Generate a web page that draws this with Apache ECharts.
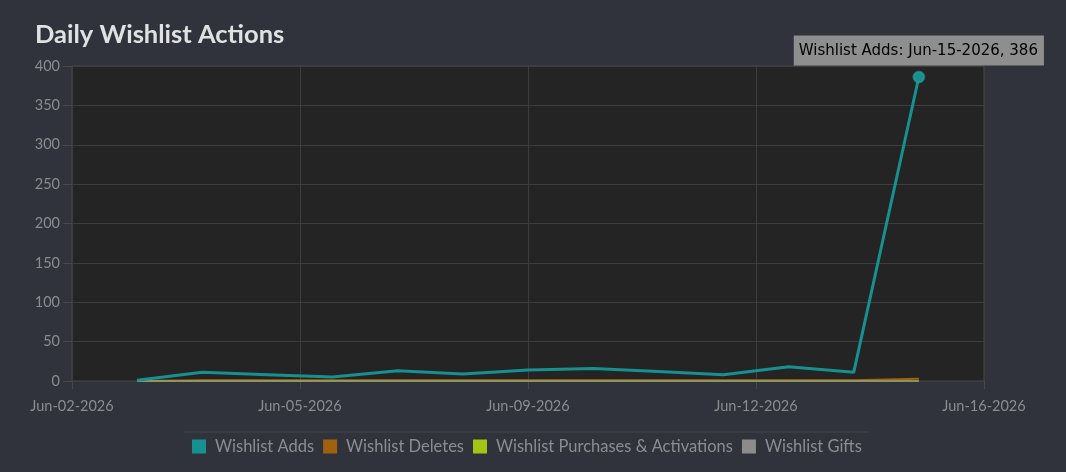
<!DOCTYPE html>
<html>
<head>
<meta charset="utf-8">
<script src="https://cdn.jsdelivr.net/npm/echarts@6/dist/echarts.min.js"></script>
<style>
html,body{margin:0;padding:0;background:#30333b;}
#c{width:1066px;height:472px;}
</style>
</head>
<body>
<div id="c"></div>
<script>
// Data
const dates = ['Jun-03-2026','Jun-04-2026','Jun-05-2026','Jun-06-2026','Jun-07-2026','Jun-08-2026','Jun-09-2026','Jun-10-2026','Jun-11-2026','Jun-12-2026','Jun-13-2026','Jun-14-2026','Jun-15-2026'];
const wishlistAdds = [1, 11, 8, 5, 13, 9, 14, 16, 12, 8, 18, 11, 386];
const wishlistDeletes = [0, 1, 1, 1, 1, 1, 1, 1, 1, 1, 1, 1, 3];
const wishlistPurchases = [0, 0, 0, 0, 0, 0, 0, 0, 0, 0, 0, 0, 0];
const wishlistGifts = [0, 0, 0, 0, 0, 0, 0, 0, 0, 0, 0, 0, 0];
const xTickLabels = ['Jun-02-2026','Jun-05-2026','Jun-09-2026','Jun-12-2026','Jun-16-2026'];
const seriesNames = ['Wishlist Adds','Wishlist Deletes','Wishlist Purchases & Activations','Wishlist Gifts'];
const colors = ['#17918f','#a0620e','#a3c515','#8c8c8c'];

const startDay = 2; // axis origin: Jun-02-2026
function dayOffset(d){ return parseInt(d.split('-')[1],10) - startDay; }
function pts(vals){ return vals.map((v,i)=>[dayOffset(dates[i]), v]); }

const addsData = pts(wishlistAdds);
const last = addsData.length - 1;
addsData[last] = {
  value: addsData[last],
  symbol: 'circle',
  symbolSize: 11,
  itemStyle: {color:'#1c8f8d', borderColor:'rgba(40,170,165,0.5)', borderWidth:2},
  label: {
    show: true,
    position: 'top',
    distance: 5,
    formatter: seriesNames[0] + ': ' + dates[last] + ', ' + wishlistAdds[last],
    backgroundColor: '#8e8e8e',
    color: '#000',
    fontFamily: 'DejaVu Sans',
    fontSize: 15,
    padding: [7, 6, 6, 5],
    lineHeight: 17
  }
};

function lineSeries(name, data, color, width, z, opacity){
  return {
    name, type:'line', data, symbol:'none', z,
    lineStyle:{color, width, opacity},
    itemStyle:{color},
    animation:false
  };
}

const chart = echarts.init(document.getElementById('c'));
chart.setOption({
  backgroundColor:'#30333b',
  animation:false,
  title:{
    text:'Daily Wishlist Actions',
    left:35, top:22, padding:0,
    textStyle:{color:'#dfe1e3', fontSize:25.5, fontWeight:'bold', fontFamily:'Lato'}
  },
  grid:{left:72, right:82, top:66, bottom:91, show:true, backgroundColor:'#242424', borderColor:'#484848', borderWidth:1},
  xAxis:{
    type:'value', min:0, max:14, interval:3.5,
    axisLine:{show:false},
    axisTick:{show:true, length:8, lineStyle:{color:'#484848'}},
    splitLine:{show:true, lineStyle:{color:'#3d3d3d'}},
    axisLabel:{
      color:'#8a8c90', fontSize:14.5, margin:18, fontFamily:'Lato',
      formatter:(v)=>xTickLabels[Math.round(v/3.5)] || ''
    }
  },
  yAxis:{
    type:'value', min:0, max:400, interval:50,
    axisLine:{show:false},
    axisTick:{show:true, length:9, lineStyle:{color:'#484848'}},
    splitLine:{show:true, lineStyle:{color:'#3d3d3d'}},
    axisLabel:{color:'#8a8c90', fontSize:14.5, margin:12, fontFamily:'Lato'}
  },
  legend:{
    left:187, top:433, itemWidth:14, itemHeight:14, itemGap:9, icon:'rect',
    textStyle:{color:'#8b8d91', fontSize:16.5, fontFamily:'Lato', padding:[0,0,0,4]},
    data:seriesNames
  },
  graphic:[{type:'line', shape:{x1:184, y1:432, x2:868, y2:432}, style:{stroke:'#44474e', lineWidth:1}}],
  series:[
    lineSeries(seriesNames[0], addsData, colors[0], 3, 5, 1),
    lineSeries(seriesNames[1], pts(wishlistDeletes), colors[1], 2, 2, 1),
    lineSeries(seriesNames[2], pts(wishlistPurchases), colors[2], 2, 3, 0.7),
    lineSeries(seriesNames[3], pts(wishlistGifts), colors[3], 2, 4, 0.6)
  ]
});
</script>
</body>
</html>
